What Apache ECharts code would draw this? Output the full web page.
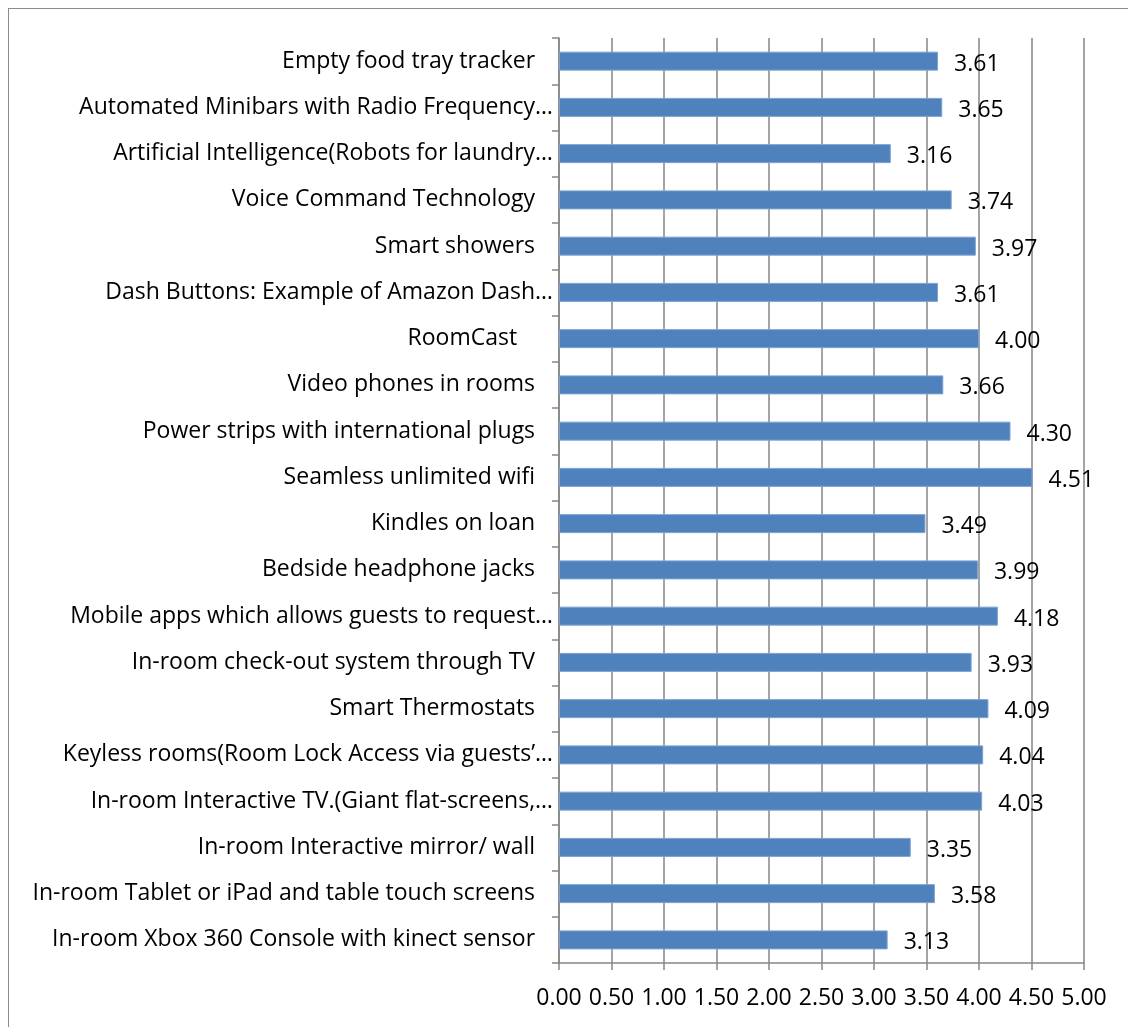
<!DOCTYPE html>
<html>
<head>
<meta charset="utf-8">
<script src="https://cdn.jsdelivr.net/npm/echarts@6/dist/echarts.min.js"></script>
<style>
  html, body { margin: 0; padding: 0; background: #fff; }
  #frame { position: absolute; left: 8px; top: 8px; width: 1125px; height: 1030px; border: 1.5px solid #8c8c8c; box-sizing: border-box; }
  #chart { position: absolute; left: 0; top: 0; width: 1128px; height: 1027px; }
</style>
</head>
<body>
<div id="frame"></div>
<div id="chart"></div>
<script>
// 항목 (위에서 아래 순서)
const categories = [
  'Empty food tray tracker   ',
  'Automated Minibars with Radio Frequency…',
  'Artificial Intelligence(Robots for laundry…',
  'Voice Command Technology   ',
  'Smart showers   ',
  'Dash Buttons: Example of Amazon Dash…',
  'RoomCast      ',
  'Video phones in rooms   ',
  'Power strips with international plugs   ',
  'Seamless unlimited wifi   ',
  'Kindles on loan   ',
  'Bedside headphone jacks   ',
  'Mobile apps which allows guests to request…',
  'In-room check-out system through TV   ',
  'Smart Thermostats   ',
  'Keyless rooms(Room Lock Access via guests’…',
  'In-room Interactive TV.(Giant flat-screens,…',
  'In-room Interactive mirror/ wall   ',
  'In-room Tablet or iPad and table touch screens   ',
  'In-room Xbox 360 Console with kinect sensor   '
];

// 평균 점수
const scores = [3.61, 3.65, 3.16, 3.74, 3.97, 3.61, 4.00, 3.66, 4.30, 4.51,
  3.49, 3.99, 4.18, 3.93, 4.09, 4.04, 4.03, 3.35, 3.58, 3.13];

const axisMin = 0;
const axisMax = 5;
const axisStep = 0.5;

const chart = echarts.init(document.getElementById('chart'));
const font = 'Open Sans, Liberation Sans, sans-serif';

chart.setOption({
  animation: false,
  grid: { left: 559, right: 44, top: 38, bottom: 64, containLabel: false },
  xAxis: {
    type: 'value', min: axisMin, max: axisMax, interval: axisStep,
    axisLine: { show: true, lineStyle: { color: '#868686', width: 1.5 } },
    axisTick: { show: true, length: 7, lineStyle: { color: '#868686', width: 1.5 } },
    splitLine: { show: true, lineStyle: { color: '#868686', width: 1.5 } },
    axisLabel: { color: '#000', fontFamily: font, fontSize: 23, margin: 24, formatter: (v) => v.toFixed(2) }
  },
  yAxis: {
    type: 'category', data: categories, inverse: true,
    axisLine: { show: true, lineStyle: { color: '#868686', width: 1.5 } },
    axisTick: { show: true, length: 7, lineStyle: { color: '#868686', width: 1.5 } },
    axisLabel: { color: '#000', fontFamily: font, fontSize: 23, margin: 6 }
  },
  series: [{
    type: 'bar', data: scores, barWidth: 19,
    itemStyle: { color: '#4f81bd', borderColor: '#7ea3d3', borderWidth: 1 },
    label: {
      show: true, position: 'right', distance: 16, offset: [0, 3],
      color: '#000', fontFamily: font, fontSize: 23,
      formatter: (p) => p.value.toFixed(2)
    }
  }]
});
</script>
</body>
</html>
